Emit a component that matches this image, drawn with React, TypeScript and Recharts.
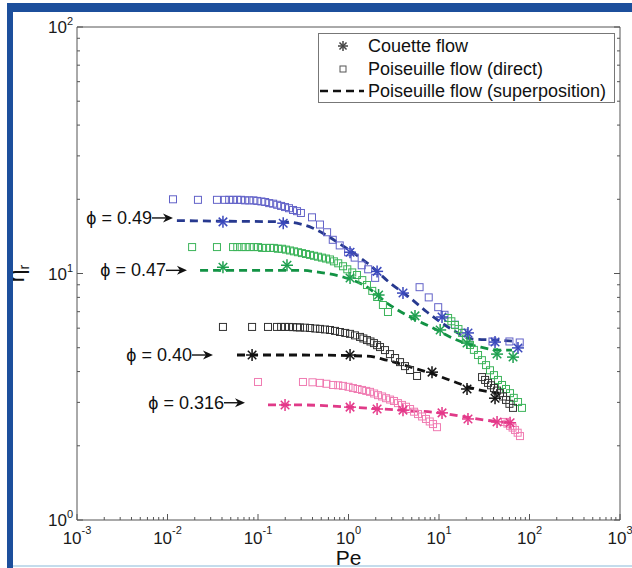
import React from 'react';
import { ComposedChart, XAxis, YAxis, Line, Scatter, ReferenceDot, Legend, Label } from 'recharts';

const FONT = "'Liberation Sans', Arial, Helvetica, sans-serif";
const AXIS = '#555';

// [Pe, eta_r] pairs
const phi049Direct = [
  [0.0115, 20.0], [0.0217, 19.9], [0.0352, 19.9], [0.043, 19.9], [0.048, 19.9], [0.053, 19.9], [0.059, 19.9],
  [0.065, 19.9], [0.072, 19.8], [0.08, 19.8], [0.089, 19.8], [0.098, 19.7], [0.109, 19.6], [0.12, 19.5],
  [0.133, 19.3], [0.147, 19.2], [0.163, 19.0], [0.18, 18.8], [0.199, 18.6], [0.22, 18.4], [0.244, 18.1],
  [0.27, 17.9], [0.298, 17.6], [0.395, 16.9], [0.484, 15.8], [0.58, 14.7], [0.67, 13.7], [0.8, 13.0],
  [0.99, 12.2], [1.17, 11.6], [1.4, 10.8], [1.65, 10.4], [1.97, 9.6], [6.1, 8.8], [7.7, 8.0], [9.8, 7.3],
  [11.5, 6.8], [15, 6.2], [19, 5.75], [39, 5.3], [60, 5.3], [78, 5.25],
];
const phi049Couette = [
  [0.041, 16.2], [0.19, 16.0], [1.04, 12.2], [2.07, 10.2], [4.0, 8.33], [10.8, 6.66], [20.9, 5.74], [41.6, 5.27], [74.6, 4.99],
];
const phi049Super = [
  [0.0127, 16.4], [0.041, 16.3], [0.19, 16.2], [0.29, 15.9], [0.4, 15.3], [0.55, 14.4], [0.8, 13.2], [1.18, 12.0],
  [1.73, 10.8], [2.88, 9.15], [4.79, 7.96], [7.36, 6.98], [13.2, 6.0], [23.8, 5.42], [43.8, 5.37], [64, 5.32],
];

const phi047Direct = [
  [0.0187, 12.8], [0.0352, 12.8], [0.053, 12.8], [0.059, 12.8], [0.066, 12.8], [0.073, 12.8], [0.081, 12.8],
  [0.09, 12.8], [0.1, 12.8], [0.111, 12.7], [0.123, 12.7], [0.136, 12.7], [0.15, 12.7], [0.166, 12.6],
  [0.184, 12.6], [0.204, 12.5], [0.226, 12.4], [0.25, 12.3], [0.277, 12.2], [0.306, 12.1], [0.339, 12.0],
  [0.376, 11.9], [0.416, 11.8], [0.46, 11.7], [0.509, 11.6], [0.564, 11.5], [0.625, 11.4], [0.69, 11.2],
  [0.77, 11.0], [0.87, 10.7], [0.97, 10.4], [1.1, 10.1], [1.24, 9.86], [1.42, 9.4], [1.6, 8.98], [1.83, 8.5],
  [2.07, 8.03], [2.4, 7.45], [2.73, 6.98], [12.6, 6.6], [13.7, 6.4], [15.0, 6.18], [16.4, 5.95], [18.0, 5.74],
  [19.8, 5.45], [22.0, 5.13], [24.3, 4.9], [27.0, 4.67], [29.8, 4.45], [33.1, 4.25], [36.6, 4.05], [40.5, 3.87],
  [44.8, 3.7], [49.7, 3.53], [55, 3.4], [60.9, 3.27], [67, 3.13], [74.7, 3.01], [82.6, 2.85],
];
const phi047Couette = [
  [0.041, 10.6], [0.209, 10.8], [1.04, 9.59], [2.15, 8.18], [5.43, 6.73], [10.3, 5.9], [20.4, 5.22], [43.8, 4.71], [65.8, 4.58],
];
const phi047Super = [
  [0.0229, 10.3], [0.0816, 10.3], [0.291, 10.3], [0.484, 10.1], [0.869, 9.68], [1.6, 8.81], [2.66, 7.59],
  [4.79, 6.66], [8.59, 6.01], [15.8, 5.37], [28.4, 5.03], [47.2, 4.89], [64, 4.89],
];

const phi040Direct = [
  [0.041, 6.07], [0.086, 6.07], [0.129, 6.07], [0.162, 6.07], [0.18, 6.07], [0.199, 6.07], [0.22, 6.07],
  [0.244, 6.06], [0.27, 6.05], [0.291, 6.04], [0.33, 6.03], [0.376, 6.01], [0.43, 5.98], [0.484, 5.96],
  [0.55, 5.93], [0.625, 5.9], [0.71, 5.85], [0.805, 5.79], [0.92, 5.74], [1.04, 5.69], [1.18, 5.61],
  [1.34, 5.53], [1.46, 5.45], [1.6, 5.37], [1.75, 5.3], [1.91, 5.22], [2.07, 5.12], [2.23, 5.03], [2.53, 4.89],
  [2.87, 4.71], [3.27, 4.54], [3.71, 4.37], [4.21, 4.21], [4.79, 4.06], [5.72, 3.84], [29.9, 3.8], [32.3, 3.7],
  [34.8, 3.6], [37.6, 3.52], [40.5, 3.43], [43.8, 3.35], [47.2, 3.27], [51, 3.17], [55, 3.07], [60, 2.96], [65.7, 2.85],
];
const phi040Couette = [[0.086, 4.67], [1.04, 4.67], [8.37, 3.98], [20.4, 3.4], [41.6, 3.12]];
const phi040Super = [
  [0.0586, 4.67], [0.291, 4.67], [1.6, 4.62], [2.66, 4.45], [4.79, 4.18], [8.59, 3.91], [15.0, 3.63], [25.0, 3.4], [47.2, 3.27],
];

const phi0316Direct = [
  [0.1, 3.63], [0.314, 3.63], [0.4, 3.62], [0.484, 3.6], [0.57, 3.57], [0.674, 3.53], [0.77, 3.52], [0.869, 3.5],
  [1.0, 3.47], [1.12, 3.43], [1.26, 3.4], [1.41, 3.37], [1.57, 3.34], [1.73, 3.31], [1.92, 3.26], [2.12, 3.21],
  [2.35, 3.17], [2.6, 3.12], [2.88, 3.08], [3.18, 3.04], [3.52, 2.98], [3.9, 2.93], [4.32, 2.88], [4.79, 2.82],
  [5.3, 2.75], [5.86, 2.69], [6.5, 2.63], [7.18, 2.57], [7.9, 2.51], [8.59, 2.45], [9.5, 2.38], [53.6, 2.5],
  [57, 2.46], [61, 2.41], [65, 2.37], [69.2, 2.32], [74, 2.26], [78.5, 2.19],
];
const phi0316Couette = [[0.199, 2.93], [1.04, 2.87], [2.07, 2.82], [4.0, 2.79], [10.8, 2.72], [20.9, 2.57], [43.8, 2.5], [61, 2.48]];
const phi0316Super = [[0.129, 2.93], [0.291, 2.93], [1.04, 2.87], [3.71, 2.79], [10.3, 2.72], [22.0, 2.6], [47.2, 2.5], [64, 2.48]];

// phi annotations: arrow tip in data coords
const annotations = [
  { label: '\u03d5 = 0.49', pe: 0.0115, eta: 16.8 },
  { label: '\u03d5 = 0.47', pe: 0.0164, eta: 10.3 },
  { label: '\u03d5 = 0.40', pe: 0.0318, eta: 4.67 },
  { label: '\u03d5 = 0.316', pe: 0.0718, eta: 2.99 },
];

const xMajor = [0.001, 0.01, 0.1, 1, 10, 100, 1000];
const yMajor = [1, 10, 100];

const withMinors = (majors: number[]) => {
  const out: number[] = [];
  majors.forEach((m, i) => {
    if (i === majors.length - 1) { out.push(m); return; }
    for (let k = 1; k <= 9; k++) out.push(+(m * k).toPrecision(6));
  });
  return out;
};
const xTicks = withMinors(xMajor);
const yTicks = withMinors(yMajor);

const pts = (a: number[][]) => a.map(([x, y]) => ({ x, y }));

const series = [
  { id: '049', sq: '#6262c8', st: '#3a48bc', ln: '#27398f', direct: phi049Direct, couette: phi049Couette, sup: phi049Super },
  { id: '047', sq: '#3cb45a', st: '#1fa050', ln: '#129244', direct: phi047Direct, couette: phi047Couette, sup: phi047Super },
  { id: '040', sq: '#333333', st: '#111111', ln: '#111111', direct: phi040Direct, couette: phi040Couette, sup: phi040Super },
  { id: '0316', sq: '#f07cb2', st: '#e5398a', ln: '#e03a88', direct: phi0316Direct, couette: phi0316Couette, sup: phi0316Super },
];

const isMajor = (v: number) => Math.abs(Math.log10(v) - Math.round(Math.log10(v))) < 1e-6;

function StarMark({ cx, cy, color, r = 6 }: any) {
  const d = r * 0.7071;
  return (
    <g stroke={color} strokeWidth={1.5}>
      <line x1={cx - r} y1={cy} x2={cx + r} y2={cy} />
      <line x1={cx} y1={cy - r} x2={cx} y2={cy + r} />
      <line x1={cx - d} y1={cy - d} x2={cx + d} y2={cy + d} />
      <line x1={cx - d} y1={cy + d} x2={cx + d} y2={cy - d} />
    </g>
  );
}

function SquareMark({ cx, cy, color }: any) {
  return <rect x={cx - 3.5} y={cy - 3.5} width={7} height={7} fill="none" stroke={color} strokeWidth={1} />;
}

function makeTick(side: 'bottom' | 'top' | 'left' | 'right') {
  return (props: any) => {
    const { x, y, payload } = props;
    const v = payload.value;
    const major = isMajor(v);
    const len = major ? 6 : 3;
    const exp = Math.round(Math.log10(v));
    let line;
    if (side === 'bottom') line = <line x1={x} y1={y} x2={x} y2={y - len} stroke={AXIS} />;
    else if (side === 'top') line = <line x1={x} y1={y} x2={x} y2={y + len} stroke={AXIS} />;
    else if (side === 'left') line = <line x1={x} y1={y} x2={x + len} y2={y} stroke={AXIS} />;
    else line = <line x1={x} y1={y} x2={x - len} y2={y} stroke={AXIS} />;
    let text = null;
    if (major && side === 'bottom') {
      text = (
        <text x={x} y={y + 24} textAnchor="middle" fontSize={17} fontFamily={FONT} fill="#1a1a1a">
          10<tspan dy={-10} fontSize={11}>{exp}</tspan>
        </text>
      );
    } else if (major && side === 'left') {
      text = (
        <text x={x - 4} y={y + 6} textAnchor="end" fontSize={17} fontFamily={FONT} fill="#1a1a1a">
          10<tspan dy={-8} fontSize={11}>{exp}</tspan>
        </text>
      );
    }
    return (
      <g>
        {line}
        {text}
      </g>
    );
  };
}

function Annotation({ cx, cy, label }: any) {
  return (
    <g>
      <text x={cx - 21} y={cy + 6} textAnchor="end" fontSize={18} fontFamily={FONT} fill="#111">{label}</text>
      <line x1={cx - 21} y1={cy} x2={cx - 6} y2={cy} stroke="#111" strokeWidth={1.4} />
      <polygon points={`${cx},${cy} ${cx - 10},${cy - 4.5} ${cx - 7},${cy} ${cx - 10},${cy + 4.5}`} fill="#111" />
    </g>
  );
}

function LegendBox() {
  const row = (top: number, mark: React.ReactNode, text: string) => (
    <div style={{ position: 'absolute', left: 0, top: top - 11, height: 22, width: 296 }}>
      <svg width={48} height={22} style={{ position: 'absolute', left: 0, top: 0 }}>{mark}</svg>
      <span style={{ position: 'absolute', left: 49, top: 0, fontSize: 18, lineHeight: '22px', whiteSpace: 'nowrap' }}>{text}</span>
    </div>
  );
  return (
    <div style={{ position: 'relative', width: 295, height: 68, border: '1px solid #777', background: '#fff', fontFamily: FONT, color: '#111' }}>
      {row(12, <StarMark cx={24} cy={11} color="#444" r={5} />, 'Couette flow')}
      {row(35, <rect x={21} y={8} width={6} height={6} fill="none" stroke="#555" />, 'Poiseuille flow (direct)')}
      {row(57, <line x1={1} y1={11} x2={45} y2={11} stroke="#111" strokeWidth={2.5} strokeDasharray="8 5" />, 'Poiseuille flow (superposition)')}
    </div>
  );
}

const xTitle = (p: any) => {
  const vb = p.viewBox;
  return (
    <text x={vb.x + vb.width / 2} y={vb.y + 45} textAnchor="middle" fontSize={21} fontFamily={FONT} fill="#111">Pe</text>
  );
};

const yTitle = (p: any) => {
  const vb = p.viewBox;
  const cx = vb.x - 52;
  const cy = vb.y + vb.height / 2;
  return (
    <text x={cx} y={cy} transform={`rotate(-90, ${cx}, ${cy})`} textAnchor="middle" fontSize={23} fontFamily={FONT} fill="#111">
      η<tspan dy={5} fontSize={14}>r</tspan>
    </text>
  );
};

export default function App() {
  return (
    <div style={{ position: 'absolute', left: 0, top: 0, width: 632, height: 568, background: '#fff', overflow: 'hidden' }}>
      <ComposedChart width={632} height={568} margin={{ top: 26, right: 11, bottom: 47, left: 76 }}>
        <XAxis xAxisId="b" type="number" dataKey="x" scale="log" domain={[0.001, 1000]} allowDataOverflow
          ticks={xTicks} interval={0} height={1} tickSize={0} tickMargin={0} stroke={AXIS} tick={makeTick('bottom')}>
          <Label content={xTitle} />
        </XAxis>
        <XAxis xAxisId="t" orientation="top" type="number" scale="log" domain={[0.001, 1000]} allowDataOverflow
          ticks={xTicks} interval={0} height={1} tickSize={0} tickMargin={0} stroke={AXIS} tick={makeTick('top')} />
        <YAxis yAxisId="l" type="number" dataKey="y" scale="log" domain={[1, 100]} allowDataOverflow
          ticks={yTicks} interval={0} width={1} tickSize={0} tickMargin={0} stroke={AXIS} tick={makeTick('left')}>
          <Label content={yTitle} />
        </YAxis>
        <YAxis yAxisId="r" orientation="right" type="number" scale="log" domain={[1, 100]} allowDataOverflow
          ticks={yTicks} interval={0} width={1} tickSize={0} tickMargin={0} stroke={AXIS} tick={makeTick('right')} />

        {series.map((s) => (
          <Scatter key={'d' + s.id} xAxisId="b" yAxisId="l" data={pts(s.direct)} isAnimationActive={false}
            shape={(p: any) => <SquareMark cx={p.cx} cy={p.cy} color={s.sq} />} />
        ))}
        {series.map((s) => (
          <Line key={'s' + s.id} xAxisId="b" yAxisId="l" data={pts(s.sup)} dataKey="y" type="monotone"
            stroke={s.ln} strokeWidth={2.8} strokeDasharray="8 5" dot={false} activeDot={false} isAnimationActive={false} />
        ))}
        {series.map((s) => (
          <Scatter key={'c' + s.id} xAxisId="b" yAxisId="l" data={pts(s.couette)} isAnimationActive={false}
            shape={(p: any) => <StarMark cx={p.cx} cy={p.cy} color={s.st} />} />
        ))}
        {annotations.map((a) => (
          <ReferenceDot key={a.label} xAxisId="b" yAxisId="l" x={a.pe} y={a.eta} r={0} ifOverflow="visible"
            shape={(p: any) => <Annotation cx={p.cx} cy={p.cy} label={a.label} />} />
        ))}
        <Legend layout="horizontal" verticalAlign="middle" align="center" content={() => <LegendBox />}
          wrapperStyle={{ position: 'absolute', left: 318, top: 33, width: 297, height: 70 }} />
      </ComposedChart>
      <div style={{ position: 'absolute', left: 7, top: 3, width: 625, height: 9, background: '#1c4f9c' }} />
      <div style={{ position: 'absolute', left: 7, top: 3, width: 6, height: 565, background: '#1c4f9c' }} />
      <div style={{ position: 'absolute', left: 13, top: 565, width: 619, height: 2, background: '#c4dcec' }} />
    </div>
  );
}
